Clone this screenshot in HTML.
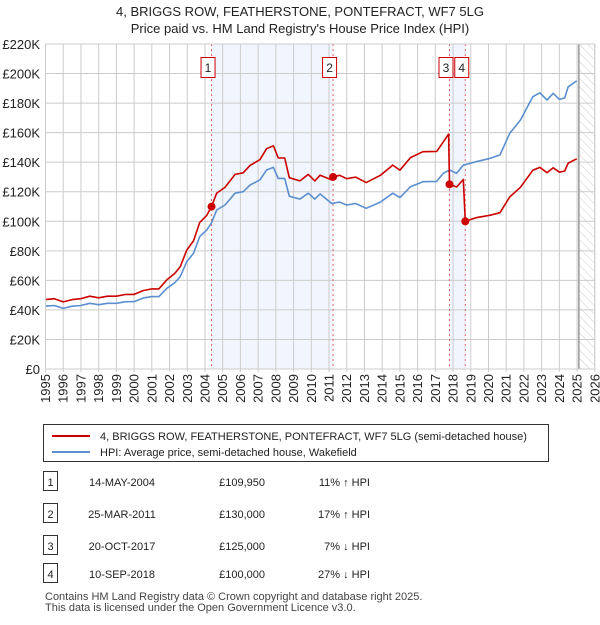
<!DOCTYPE html>
<html><head><meta charset="utf-8"><style>
body{margin:0;background:#fff;font-family:"Liberation Sans","DejaVu Sans",sans-serif;}
svg text{font-family:"Liberation Sans","DejaVu Sans",sans-serif;}
</style></head><body>
<svg id="c" width="600" height="620" xmlns="http://www.w3.org/2000/svg">
<defs><pattern id="hatch" width="6" height="6" patternUnits="userSpaceOnUse" patternTransform="rotate(-45)"><line x1="0" y1="0" x2="0" y2="6" stroke="#ccc" stroke-width="1"/></pattern></defs>
<text x="300" y="16" text-anchor="middle" font-size="13" fill="#222">4, BRIGGS ROW, FEATHERSTONE, PONTEFRACT, WF7 5LG</text>
<text x="300" y="33" text-anchor="middle" font-size="13" fill="#222">Price paid vs. HM Land Registry's House Price Index (HPI)</text>
<g id="plot"></g>
<g>
<rect x="43.5" y="424.5" width="505" height="37" fill="#fff" stroke="#333"/>
<line x1="52" y1="436" x2="90" y2="436" stroke="#cc0000" stroke-width="2"/>
<text x="100" y="440" font-size="11" fill="#222">4, BRIGGS ROW, FEATHERSTONE, PONTEFRACT, WF7 5LG (semi-detached house)</text>
<line x1="52" y1="452" x2="90" y2="452" stroke="#5b8fd0" stroke-width="2"/>
<text x="100" y="456" font-size="11" fill="#222">HPI: Average price, semi-detached house, Wakefield</text>
</g>
<g id="table" font-size="11" fill="#222"></g>
<text x="45" y="600" font-size="11" fill="#444">Contains HM Land Registry data © Crown copyright and database right 2025.</text>
<text x="45" y="611" font-size="11" fill="#444">This data is licensed under the Open Government Licence v3.0.</text>
</svg>
<script>
const hpiYears=[1995.0,1995.5,1996.0,1996.5,1997.0,1997.5,1998.0,1998.5,1999.0,1999.5,2000.0,2000.5,2001.0,2001.4,2001.85,2002.3,2002.6,2002.97,2003.35,2003.7,2004.1,2004.37,2004.66,2005.13,2005.7,2006.16,2006.54,2007.1,2007.48,2007.86,2008.14,2008.5,2008.76,2009.36,2009.83,2010.2,2010.5,2011.15,2011.6,2012.0,2012.5,2013.1,2013.9,2014.6,2015.0,2015.6,2016.3,2017.08,2017.45,2017.8,2018.2,2018.58,2019.3,2020.1,2020.65,2021.2,2021.8,2022.5,2022.9,2023.3,2023.65,2024.0,2024.3,2024.5,2024.98];
const hpiValues=[42.5,43,41,42.5,43,44.5,43.5,44.5,44.5,45.5,45.6,48,49,49,54.6,58.5,62.5,72.6,78.3,89.6,94,99,107.6,111,119,120,124.5,128,134.7,136.5,129,129,117,115,119,115,118.5,112,113,111,112,108.8,113,119,116,123.4,126.8,127,132.5,134.7,132.5,138,140.3,142.6,144.9,159.5,168.5,184.3,187,182,186.6,182.5,183.5,191,195];
const priceYears=[1995.0,1995.5,1996.0,1996.5,1997.0,1997.5,1998.0,1998.5,1999.0,1999.5,2000.0,2000.5,2001.0,2001.4,2001.85,2002.3,2002.6,2002.97,2003.35,2003.7,2004.1,2004.37,2004.66,2005.13,2005.7,2006.16,2006.54,2007.1,2007.48,2007.86,2008.14,2008.5,2008.76,2009.36,2009.83,2010.2,2010.5,2011.15,2011.23,2011.6,2012.0,2012.5,2013.1,2013.9,2014.6,2015.0,2015.6,2016.3,2017.08,2017.45,2017.75,2017.8,2018.2,2018.58,2018.69,2019.3,2020.1,2020.65,2021.2,2021.8,2022.5,2022.9,2023.3,2023.65,2024.0,2024.3,2024.5,2024.98];
const priceValues=[47.0,47.6,45.4,47.0,47.6,49.3,48.2,49.3,49.3,50.4,50.5,53.1,54.2,54.2,60.4,64.8,69.2,80.4,86.7,99.2,104,109.95,119.1,122.9,131.7,132.8,137.8,141.7,149.1,151.1,142.8,142.8,129.5,127.3,131.7,127.3,131.2,128,130,131.1,128.8,129.9,126.2,131.1,138,134.6,143.1,147.1,147.3,153.7,159,125,123.2,128.3,100,102.4,104.1,105.8,116.4,123,134.5,136.5,132.9,136.2,133.2,134,139.4,142.3];
const saleLabels=["1","2","3","4"];
const saleYears=[2004.37,2011.23,2017.80,2018.69];
const saleValues=[109.95,130,125,100];
const saleDates=["14-MAY-2004","25-MAR-2011","20-OCT-2017","10-SEP-2018"];
const salePrices=["£109,950","£130,000","£125,000","£100,000"];
const saleHpi=["11% ↑ HPI","17% ↑ HPI","7% ↓ HPI","27% ↓ HPI"];
const yTicks=[0,20,40,60,80,100,120,140,160,180,200,220];
const xTicks=[1995,1996,1997,1998,1999,2000,2001,2002,2003,2004,2005,2006,2007,2008,2009,2010,2011,2012,2013,2014,2015,2016,2017,2018,2019,2020,2021,2022,2023,2024,2025,2026];
const X0=45.5,X1=594.8,Y0=369,Y1=44;
const x=y=>X0+(y-1995)/31*(X1-X0);
const yv=v=>Y0-v/220*(Y0-Y1);
const NS="http://www.w3.org/2000/svg";
const plot=document.getElementById('plot');
function mk(t,a,p){const e=document.createElementNS(NS,t);for(const k in a)e.setAttribute(k,a[k]);(p||plot).appendChild(e);return e;}
let s=mk('rect',{x:x(saleYears[0]),y:Y1,width:x(saleYears[1])-x(saleYears[0]),height:Y0-Y1,fill:'#f1f5fd'});


s=mk('rect',{x:x(saleYears[2]),y:Y1,width:x(saleYears[3])-x(saleYears[2]),height:Y0-Y1,fill:'#f1f5fd'});


s=mk('rect',{x:x(2025.1),y:Y1,width:X1-x(2025.1),height:Y0-Y1,fill:'url(#hatch)'});


yTicks.forEach(v=>{
 const l=mk('line',{x1:X0,x2:X1,y1:yv(v),y2:yv(v),stroke:'#ccc','stroke-width':1});
 
 
 const t=mk('text',{x:40,y:yv(v)+5,'text-anchor':'end','font-size':13,fill:'#222'});
 t.textContent=v===0?'£0':'£'+v+'K';
 
 
});
xTicks.forEach(v=>{
 const l=mk('line',{x1:x(v),x2:x(v),y1:Y1,y2:Y0+3,stroke:'#ccc','stroke-width':1});
 
 
 const tx=x(v)+4.5,ty=374;
 const t=mk('text',{x:tx,y:ty,'text-anchor':'end','font-size':13,fill:'#222',transform:`rotate(-90 ${tx} ${ty})`});
 t.textContent=v;
 
 
});
const vl=mk('line',{x1:x(2025.1),x2:x(2025.1),y1:Y1,y2:Y0,stroke:'#999','stroke-width':1.5});


saleYears.forEach((yr,i)=>{
 const l=mk('line',{x1:x(yr),x2:x(yr),y1:Y1,y2:Y0,stroke:'#e06060','stroke-width':1,'stroke-dasharray':'2,3'});
 
 
 const b=mk('rect',{x:x(yr)-10.5,y:57.5,width:14,height:20,fill:'#fff',stroke:'#cc0000'});
 
 
 const t=mk('text',{x:x(yr)-3.5,y:72,'text-anchor':'middle','font-size':12,fill:'#222'});
 t.textContent=saleLabels[i];
 
 
});
function path(xs,vs,col,name){
 const d=xs.map((v,i)=>(i?'L':'M')+x(v).toFixed(1)+','+yv(vs[i]).toFixed(1)).join('');
 const p=mk('path',{d:d,fill:'none',stroke:col,'stroke-width':1.6,'stroke-linejoin':'round'});
 
 
}
path(hpiYears,hpiValues,'#5b8fd0','hpi-line');
path(priceYears,priceValues,'#cc0000','price-line');
saleYears.forEach((yr,i)=>{
 const c=mk('circle',{cx:x(yr),cy:yv(saleValues[i]),r:4,fill:'#cc0000'});
 
 
});
const box=mk('rect',{x:X0,y:Y1,width:X1-X0,height:Y0-Y1,fill:'none',stroke:'#ccc'});


const tb=document.getElementById('table');
const rowY=[482,514,546,574];
saleLabels.forEach((lab,i)=>{
 const yy=rowY[i];
 const r=mk('rect',{x:43.5,y:yy-10.5,width:14,height:19,fill:'#fff',stroke:'#333'},tb);
 
 
 const cells=[[50.5,lab,'middle'],[122,saleDates[i],'middle'],[265,salePrices[i],'end'],[370,saleHpi[i],'end']];
 cells.forEach(c=>{
  const t=mk('text',{x:c[0],y:yy+4,'text-anchor':c[2],'font-size':11,fill:'#222'},tb);
  t.textContent=c[1];
  
  
 });
});
</script>
</body></html>
